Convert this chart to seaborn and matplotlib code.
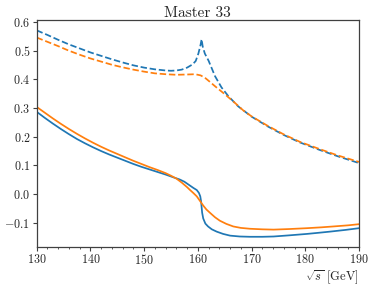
"""
Master 33 — real part (solid) and modulus-like (dashed) curves vs sqrt(s),
two colour series, near the 2*m_W threshold.
"""

import matplotlib
matplotlib.use("Agg")
import matplotlib.pyplot as plt
from matplotlib.ticker import AutoMinorLocator
import pandas as pd
import seaborn as sns

# ---- data ------------------------------------------------------------------
blue_dash_x = [130, 132, 134, 136, 138, 140, 142, 144, 146, 148, 150, 152, 154,
               155, 156, 157, 158, 159, 159.6, 160.1, 160.5, 160.7, 160.9, 161.3,
               162, 163.2, 164.4, 165.7, 167.5, 170, 173, 176, 179, 182.8, 186, 190]
blue_dash_y = [0.571, 0.555, 0.538, 0.522, 0.508, 0.494, 0.482, 0.470, 0.459, 0.449,
               0.441, 0.435, 0.431, 0.430, 0.431, 0.434, 0.441, 0.452, 0.464, 0.490,
               0.520, 0.540, 0.515, 0.490, 0.465, 0.411, 0.372, 0.341, 0.306, 0.270,
               0.236, 0.206, 0.180, 0.153, 0.132, 0.108]

orange_dash_x = [130, 132, 134, 136, 138, 140, 142, 144, 146, 148, 150, 152, 154,
                 156, 158, 159.5, 160.5, 161.3, 162.2, 163.2, 165.1, 166.9, 168.5,
                 170, 173, 176, 179, 182.8, 186, 190]
orange_dash_y = [0.546, 0.531, 0.516, 0.500, 0.486, 0.473, 0.462, 0.451, 0.442, 0.434,
                 0.427, 0.421, 0.418, 0.416, 0.417, 0.418, 0.414, 0.406, 0.392, 0.376,
                 0.347, 0.318, 0.291, 0.271, 0.238, 0.208, 0.182, 0.156, 0.135, 0.112]

blue_solid_x = [130, 131.5, 133, 134.5, 136, 137.5, 139, 140.5, 142, 143.5, 145, 146.5,
                148, 149.5, 151, 152.5, 154, 155.5, 156.6, 157.5, 158.5, 159.2, 159.8,
                160.2, 160.45, 160.6, 160.7, 160.8, 161.0, 161.4, 161.9, 162.6, 163.5,
                164.7, 166, 167.8, 169.7, 172, 174.1, 177, 180.3, 182.5, 184.6, 187.5, 190]
blue_solid_y = [0.287, 0.266, 0.246, 0.227, 0.209, 0.192, 0.177, 0.163, 0.150, 0.138,
                0.127, 0.116, 0.105, 0.095, 0.086, 0.077, 0.068, 0.058, 0.051, 0.043,
                0.030, 0.021, 0.014, 0.004, -0.008, -0.025, -0.045, -0.065, -0.085,
                -0.103, -0.113, -0.123, -0.131, -0.139, -0.145, -0.148, -0.149, -0.149,
                -0.148, -0.144, -0.139, -0.135, -0.131, -0.125, -0.119]

orange_solid_x = [130, 131.5, 133, 134.5, 136, 137.5, 139, 140.5, 142, 143.5, 145, 146.5,
                  148, 149.5, 151, 152.5, 154, 155, 156, 157, 158, 158.5, 159.2, 159.8,
                  160.4, 161, 161.6, 162.3, 163.2, 164.1, 165.3, 166.6, 168, 169.7, 172,
                  174.1, 177, 180.3, 183, 185.2, 188, 190]
orange_solid_y = [0.304, 0.284, 0.264, 0.245, 0.227, 0.210, 0.194, 0.179, 0.165, 0.152,
                  0.140, 0.128, 0.116, 0.105, 0.094, 0.084, 0.073, 0.064, 0.054, 0.040,
                  0.024, 0.015, 0.003, -0.008, -0.024, -0.040, -0.054, -0.066, -0.081,
                  -0.093, -0.104, -0.113, -0.118, -0.121, -0.123, -0.124, -0.122, -0.119,
                  -0.116, -0.113, -0.109, -0.105]

BLUE = "#1f77b4"
ORANGE = "#ff7f0e"

sns.set_theme(style="ticks")
plt.rcParams.update({
    "font.family": "cmr10",
    "mathtext.fontset": "cm",
    "axes.formatter.use_mathtext": True,
    "axes.edgecolor": "0.25",
    "axes.linewidth": 0.9,
    "xtick.color": "0.25",
    "ytick.color": "0.25",
    "xtick.labelcolor": "0.15",
    "ytick.labelcolor": "0.15",
    "xtick.major.size": 2.6,
    "ytick.major.size": 2.6,
    "xtick.minor.size": 1.5,
    "xtick.major.pad": 2.0,
    "ytick.major.pad": 2.0,
    "xtick.major.width": 0.8,
    "ytick.major.width": 0.8,
    "xtick.minor.width": 0.6,
})

fig = plt.figure(figsize=(3.74, 2.86), dpi=100)
ax = fig.add_axes([0.098, 0.136, 0.862, 0.794])

series = [
    (blue_solid_x, blue_solid_y, BLUE, "-"),
    (orange_solid_x, orange_solid_y, ORANGE, "-"),
    (blue_dash_x, blue_dash_y, BLUE, "--"),
    (orange_dash_x, orange_dash_y, ORANGE, "--"),
]
for xs, ys, color, ls in series:
    df = pd.DataFrame({"x": xs, "y": ys})
    sns.lineplot(data=df, x="x", y="y", ax=ax, color=color, linestyle=ls,
                 linewidth=1.25, estimator=None, sort=False)

ax.set_xlim(130, 190)
ax.margins(y=0.05)
ax.set_xticks([130, 140, 150, 160, 170, 180, 190])
ax.set_yticks([-0.1, 0.0, 0.1, 0.2, 0.3, 0.4, 0.5, 0.6])
ax.xaxis.set_minor_locator(AutoMinorLocator(5))
ax.tick_params(labelsize=8.7)

ax.set_title("Master 33", fontsize=11, pad=2.5)
ax.set_xlabel(r"$\sqrt{s}$ [GeV]", loc="right", fontsize=9, labelpad=1)
ax.set_ylabel("")

fig.savefig("out.png", dpi=100)
plt.close(fig)
